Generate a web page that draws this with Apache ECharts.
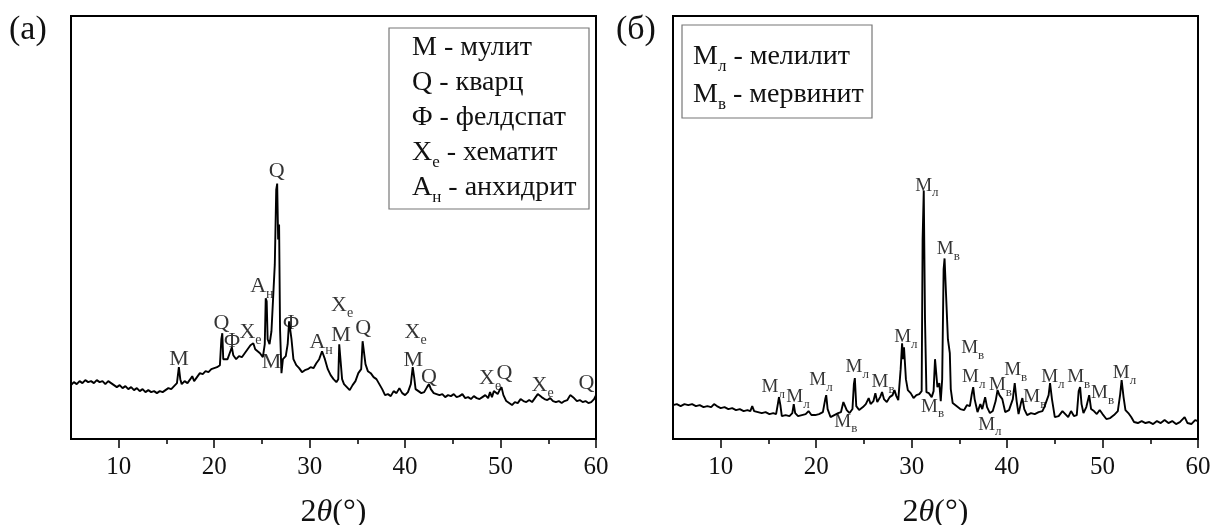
<!DOCTYPE html>
<html>
<head>
<meta charset="utf-8">
<script src="https://cdn.jsdelivr.net/npm/echarts@6/dist/echarts.min.js"></script>
<style>html,body{margin:0;padding:0;background:#fff}#c{width:1212px;height:525px}</style>
</head>
<body>
<div id="c"></div>
<script>
// ---------- data ----------
const majorTicks = [10, 20, 30, 40, 50, 60];
const minorTicks = [15, 25, 35, 45, 55];

// pattern (a): [2θ, intensity]
const patternA = [
[5.0,54],[5.3,57],[5.6,55],[5.9,58],[6.2,56],[6.5,59],[6.8,57],[7.1,58],[7.4,56],[7.7,59],[8.0,57],[8.3,58],[8.6,55],[8.9,58],[9.2,56],[9.5,54],[9.8,52],[10.1,54],[10.4,51],[10.7,53],[11.0,50],[11.3,52],[11.6,49],[11.9,51],[12.2,48],[12.5,50],[12.8,47],[13.1,49],[13.4,47],[13.7,48],[14.0,46],[14.3,48],[14.6,47],[14.9,49],[15.2,51],[15.5,50],[15.8,53],[16.1,56],[16.3,72],[16.45,60],[16.6,55],[16.9,58],[17.2,56],[17.5,60],[17.7,63],[17.9,58],[18.2,62],[18.5,66],[18.8,65],[19.1,68],[19.4,67],[19.7,70],[20.0,71],[20.3,72],[20.6,74],[20.75,100],[20.85,106],[20.95,80],[21.1,78],[21.4,80],[21.7,88],[21.85,92],[22.0,84],[22.3,80],[22.6,83],[22.9,82],[23.2,86],[23.5,90],[23.8,94],[24.1,96],[24.3,90],[24.5,92],[24.8,86],[25.1,82],[25.3,95],[25.4,141],[25.5,138],[25.6,100],[25.8,95],[26.0,108],[26.2,110],[26.35,175],[26.5,250],[26.6,256],[26.7,200],[26.8,215],[26.9,110],[27.05,66],[27.2,80],[27.5,83],[27.7,95],[27.85,118],[27.95,120],[28.1,100],[28.3,80],[28.6,74],[28.9,71],[29.2,67],[29.5,69],[29.8,70],[30.1,72],[30.4,71],[30.7,76],[31.0,80],[31.3,88],[31.45,90],[31.6,80],[31.9,70],[32.2,64],[32.5,60],[32.8,57],[33.0,60],[33.1,95],[33.25,96],[33.4,60],[33.6,55],[33.9,52],[34.2,49],[34.5,54],[34.8,58],[35.1,66],[35.4,70],[35.55,98],[35.7,99],[35.85,75],[36.1,68],[36.4,66],[36.7,62],[37.0,60],[37.3,55],[37.6,50],[37.9,44],[38.2,45],[38.5,43],[38.8,48],[39.1,46],[39.4,51],[39.7,46],[40.0,44],[40.3,47],[40.6,55],[40.8,72],[40.95,62],[41.1,50],[41.4,48],[41.7,46],[42.0,47],[42.3,52],[42.5,55],[42.7,50],[43.0,46],[43.3,45],[43.6,44],[43.9,45],[44.2,42],[44.5,44],[44.8,43],[45.1,45],[45.4,42],[45.7,43],[46.0,45],[46.3,41],[46.6,42],[46.9,40],[47.2,43],[47.5,41],[47.8,40],[48.1,42],[48.4,44],[48.7,41],[48.9,47],[49.1,42],[49.3,48],[49.5,50],[49.7,45],[49.9,49],[50.1,52],[50.3,44],[50.6,38],[50.9,36],[51.2,34],[51.5,37],[51.8,36],[52.1,40],[52.4,38],[52.7,37],[53.0,39],[53.3,37],[53.6,41],[53.9,45],[54.1,46],[54.3,42],[54.6,40],[54.9,39],[55.2,41],[55.5,38],[55.8,37],[56.1,38],[56.4,36],[56.7,38],[57.0,39],[57.3,44],[57.5,45],[57.7,41],[58.0,38],[58.3,39],[58.6,37],[58.9,38],[59.2,36],[59.5,37],[59.8,40],[60.0,44]
];

// pattern (б): [2θ, intensity]
const patternB = [
[5.0,34],[5.4,35],[5.8,33],[6.2,35],[6.6,34],[7.0,35],[7.4,33],[7.8,34],[8.2,32],[8.6,33],[9.0,32],[9.3,35],[9.6,33],[10.0,31],[10.4,32],[10.8,30],[11.2,31],[11.6,29],[12.0,30],[12.4,28],[12.8,29],[13.1,28],[13.3,33],[13.5,28],[13.9,27],[14.3,26],[14.7,27],[15.1,25],[15.5,26],[15.8,25],[16.0,36],[16.1,42],[16.25,34],[16.4,23],[16.8,24],[17.2,23],[17.5,26],[17.65,35],[17.8,26],[18.1,23],[18.5,24],[18.9,25],[19.2,28],[19.5,24],[19.9,24],[20.3,25],[20.7,27],[20.95,40],[21.05,44],[21.2,30],[21.5,22],[21.9,24],[22.3,26],[22.6,27],[22.85,37],[23.0,39],[23.2,29],[23.5,26],[23.8,30],[23.95,55],[24.05,61],[24.2,33],[24.5,29],[24.9,32],[25.2,35],[25.5,41],[25.7,35],[26.0,38],[26.2,46],[26.4,37],[26.7,42],[26.9,47],[27.1,40],[27.4,37],[27.7,42],[28.0,44],[28.2,49],[28.4,43],[28.6,39],[28.85,70],[29.0,96],[29.1,80],[29.2,92],[29.4,60],[29.6,49],[29.9,46],[30.2,41],[30.5,44],[30.8,45],[31.05,48],[31.15,200],[31.27,249],[31.4,120],[31.55,47],[31.8,46],[32.1,42],[32.3,48],[32.45,80],[32.55,81],[32.7,52],[32.9,56],[33.05,38],[33.2,60],[33.35,170],[33.45,181],[33.6,146],[33.8,100],[34.0,86],[34.1,50],[34.3,36],[34.7,33],[35.1,30],[35.5,29],[35.8,34],[36.1,33],[36.3,45],[36.45,52],[36.6,40],[36.9,27],[37.2,35],[37.4,30],[37.7,42],[37.9,32],[38.2,26],[38.5,28],[38.8,38],[39.0,49],[39.2,44],[39.5,40],[39.8,27],[40.2,29],[40.6,40],[40.8,56],[41.0,38],[41.2,25],[41.45,36],[41.6,41],[41.8,30],[42.1,24],[42.5,26],[42.9,25],[43.3,27],[43.7,28],[43.9,32],[44.1,30],[44.35,44],[44.5,56],[44.7,40],[45.0,22],[45.4,23],[45.8,28],[46.1,25],[46.4,22],[46.7,28],[47.0,23],[47.3,24],[47.5,48],[47.65,52],[47.8,35],[48.0,26],[48.3,32],[48.6,44],[48.8,30],[49.1,28],[49.4,25],[49.7,29],[50.0,25],[50.4,20],[50.8,21],[51.2,24],[51.6,28],[51.85,45],[52.0,59],[52.2,42],[52.4,29],[52.7,26],[53.0,22],[53.3,17],[53.7,16],[54.1,18],[54.5,16],[54.9,17],[55.3,15],[55.7,18],[56.1,16],[56.5,19],[56.9,16],[57.3,18],[57.7,15],[58.1,17],[58.6,22],[58.9,16],[59.3,15],[59.7,19],[60.0,18]
];

// peak annotations: [2θ, intensity, letter, subscript]
const peakLabelsA = [
[16.33,80,'M',''],[20.75,116,'Q',''],[21.88,98,'Φ',''],[23.8,107,'X','e'],[25.0,153,'A','н'],
[26.55,268,'Q',''],[26.0,77,'M',''],[28.05,116,'Φ',''],[31.2,97,'A','н'],[33.4,134,'X','e'],
[33.3,104,'M',''],[35.6,111,'Q',''],[41.1,107,'X','e'],[40.85,79,'M',''],[42.5,62,'Q',''],
[48.9,61,'X','e'],[50.4,66,'Q',''],[54.4,54,'X','e'],[59.0,56,'Q','']
];
const peakLabelsB = [
[15.5,52,'M','л'],[18.1,42,'M','л'],[20.5,59,'M','л'],[23.1,17,'M','в'],[24.3,72,'M','л'],
[27.0,57,'M','в'],[29.4,102,'M','л'],[31.6,254,'M','л'],[33.85,190,'M','в'],[36.4,91,'M','в'],
[36.5,62,'M','л'],[32.2,32,'M','в'],[38.2,14,'M','л'],[39.3,54,'M','в'],[40.9,69,'M','в'],
[42.9,42,'M','в'],[44.8,62,'M','л'],[47.5,62,'M','в'],[50.0,46,'M','в'],[52.3,66,'M','л']
];

const legendA = [['M','','- мулит'],['Q','','- кварц'],['Φ','','- фелдспат'],['X','e','- хематит'],['A','н','- анхидрит']];
const legendB = [['M','л','- мелилит'],['M','в','- мервинит']];
const panelTitles = ['(a)', '(б)'];

// ---------- chart ----------
const FONT = '"Liberation Serif","DejaVu Serif",serif';
const INK = '#000';
const chart = echarts.init(document.getElementById('c'), null, {renderer: 'canvas'});

function toLabelData(arr) {
  return arr.map(d => ({value: [d[0], d[1]], main: d[2], sub: d[3]}));
}
function labelFmt(p) {
  const d = p.data;
  return d.sub ? '{m|' + d.main + '}{s|' + d.sub + '}' : '{m|' + d.main + '}';
}
function labelRich(size, subSize) {
  return {
    m: {fontFamily: FONT, fontSize: size, color: INK, verticalAlign: 'top', lineHeight: size},
    s: {fontFamily: FONT, fontSize: subSize, color: INK, verticalAlign: 'top', lineHeight: subSize, padding: [Math.round(size * 0.55), 0, 0, 0]}
  };
}

const grids = [
  {left: 71, top: 16, width: 525, height: 423},
  {left: 673, top: 16, width: 525, height: 423}
];

function majorAxis(gi) {
  return {
    type: 'value', gridIndex: gi, min: 5, max: 60, position: 'bottom',
    axisLine: {show: true, onZero: false, lineStyle: {color: '#000', width: 2}},
    axisTick: {show: true, inside: false, length: 9, customValues: majorTicks, lineStyle: {color: '#000', width: 1.5}},
    axisLabel: {show: true, customValues: majorTicks, fontFamily: FONT, fontSize: 25, color: '#111', margin: 16},
    splitLine: {show: false},
    name: '2{i|θ}(°)', nameLocation: 'middle', nameGap: 58,
    nameTextStyle: {fontFamily: FONT, fontSize: 32, color: '#111',
      rich: {i: {fontFamily: FONT, fontSize: 32, fontStyle: 'italic', color: '#111'}}}
  };
}
function minorAxis(gi) {
  return {
    type: 'value', gridIndex: gi, min: 5, max: 60, position: 'bottom',
    axisLine: {show: false},
    axisTick: {show: true, inside: false, length: 5, customValues: minorTicks, lineStyle: {color: '#000', width: 1.5}},
    axisLabel: {show: false}, splitLine: {show: false}
  };
}
function yAxis(gi) {
  return {type: 'value', gridIndex: gi, min: 0, max: 424, show: true,
    axisLine: {show: false}, axisTick: {show: false}, axisLabel: {show: false}, splitLine: {show: false}};
}

function legendGraphic(x, y, w, h, rows, step, tx, ty0) {
  const els = [{type: 'rect', shape: {x: x, y: y, width: w, height: h},
    style: {fill: '#fff', stroke: '#777', lineWidth: 1.2}, z: 10}];
  rows.forEach((r, i) => {
    const txt = r[1] ? '{m|' + r[0] + '}{s|' + r[1] + '}{t| ' + r[2] + '}' : '{m|' + r[0] + '}{t| ' + r[2] + '}';
    els.push({type: 'text', x: tx, y: ty0 + i * step, z: 11,
      style: {text: txt, verticalAlign: 'middle',
        rich: {
          m: {fontFamily: FONT, fontSize: 28, fill: '#111', verticalAlign: 'top', lineHeight: 28},
          s: {fontFamily: FONT, fontSize: 17, fill: '#111', verticalAlign: 'top', lineHeight: 17, padding: [15, 0, 0, 0]},
          t: {fontFamily: FONT, fontSize: 28, fill: '#111', verticalAlign: 'top', lineHeight: 28}
        }}});
  });
  return els;
}

const option = {
  backgroundColor: '#fff',
  animation: false,
  grid: grids.map(g => Object.assign({show: true, borderColor: '#000', borderWidth: 2,
    backgroundColor: 'transparent', containLabel: false, outerBoundsMode: 'none'}, g)),
  xAxis: [majorAxis(0), majorAxis(1), minorAxis(0), minorAxis(1)],
  yAxis: [yAxis(0), yAxis(1)],
  series: [
    {type: 'line', xAxisIndex: 0, yAxisIndex: 0, data: patternA, symbol: 'none',
      lineStyle: {color: '#000', width: 1.9}, z: 3},
    {type: 'line', xAxisIndex: 1, yAxisIndex: 1, data: patternB, symbol: 'none',
      lineStyle: {color: '#000', width: 1.9}, z: 3},
    {type: 'scatter', xAxisIndex: 0, yAxisIndex: 0, data: toLabelData(peakLabelsA), symbolSize: 0,
      label: {show: true, position: 'inside', color: INK, formatter: labelFmt, rich: labelRich(22, 14)}, z: 4},
    {type: 'scatter', xAxisIndex: 1, yAxisIndex: 1, data: toLabelData(peakLabelsB), symbolSize: 0,
      label: {show: true, position: 'inside', color: INK, formatter: labelFmt, rich: labelRich(19, 13)}, z: 4}
  ],
  graphic: [
    {type: 'text', x: 9, y: 13, style: {text: panelTitles[0], fontFamily: FONT, fontSize: 34, fill: '#111'}},
    {type: 'text', x: 616, y: 13, style: {text: panelTitles[1], fontFamily: FONT, fontSize: 34, fill: '#111'}}
  ].concat(
    legendGraphic(389, 28, 200, 181, legendA, 35, 412, 48),
    legendGraphic(682, 25, 190, 93, legendB, 38, 693, 57)
  )
};
chart.setOption(option);
</script>
</body>
</html>
